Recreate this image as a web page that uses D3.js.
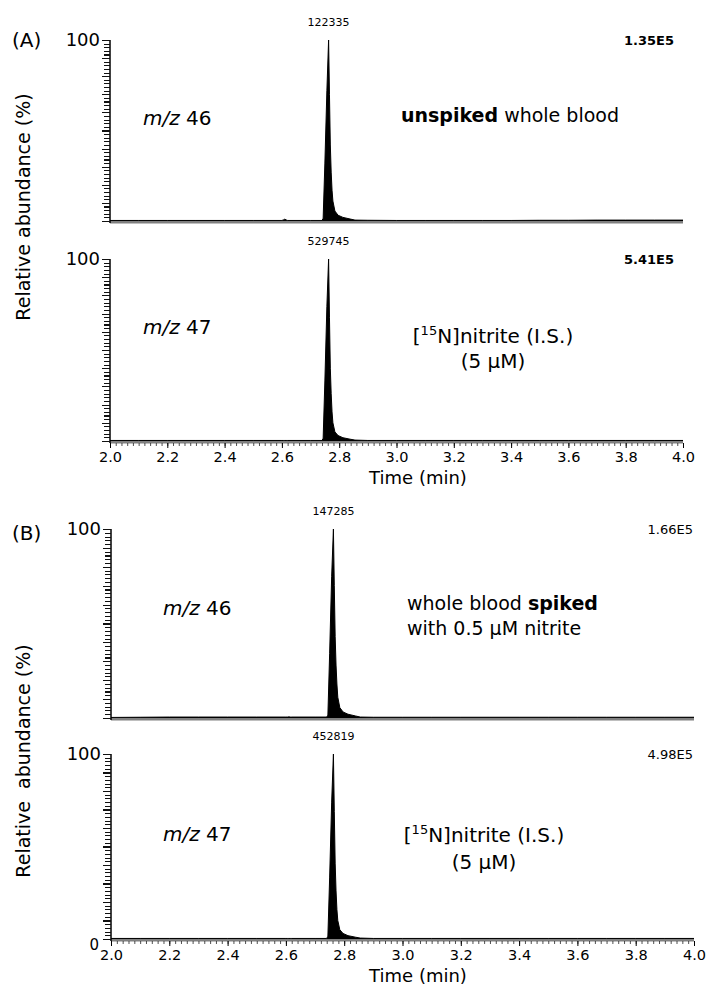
<!DOCTYPE html>
<html><head><meta charset="utf-8">
<script src="https://cdn.jsdelivr.net/npm/d3@7"></script>
<style>body{margin:0;background:#fff}svg{display:block;font-family:"DejaVu Sans",Verdana,sans-serif}</style>
</head><body><svg id="c" width="707" height="985"></svg>
<script>
// ---- data ----
const times = [2.00,2.10,2.20,2.30,2.40,2.50,2.60,2.605,2.61,2.615,2.62,2.70,2.740,2.744,2.750,2.757,2.763,2.766,2.769,2.772,2.775,2.778,2.785,2.796,2.813,2.838,2.855,2.90,3.00,3.10,3.20,3.30,3.40,3.50,3.60,3.70,3.80,3.90,4.00];
const a46 = [0.3,0.3,0.3,0.3,0.3,0.3,0.3,0.6,1.0,0.6,0.3,0.3,0.3,1.5,32,72,100,70,42,27,17,11,5.5,3.2,2.0,1.1,0.5,0.4,0.3,0.3,0.3,0.3,0.3,0.4,0.4,0.5,0.5,0.5,0.5];
const a47 = [0.3,0.3,0.3,0.3,0.3,0.3,0.3,0.3,0.3,0.3,0.3,0.3,0.3,1.5,33,74,100,68,40,26,16,10,5.0,3.0,1.8,1.0,0.5,0.3,0.3,0.3,0.3,0.3,0.3,0.3,0.3,0.3,0.3,0.3,0.3];
const b46 = [0.3,0.4,0.5,0.5,0.5,0.5,0.5,0.5,0.6,0.5,0.5,0.5,0.5,1.5,34,75,100,70,43,28,18,11,5.5,3.2,2.0,1.1,0.5,0.4,0.4,0.4,0.4,0.4,0.4,0.4,0.4,0.4,0.4,0.4,0.4];
const b47 = [0.3,0.3,0.3,0.3,0.3,0.3,0.3,0.3,0.3,0.3,0.3,0.3,0.3,1.5,33,74,100,69,41,26,16,10,5.0,3.0,1.8,1.0,0.5,0.3,0.3,0.3,0.3,0.3,0.3,0.3,0.3,0.3,0.3,0.3,0.3];
const xTicks = [2.0,2.2,2.4,2.6,2.8,3.0,3.2,3.4,3.6,3.8,4.0];
const peakLabels = ["122335","529745","147285","452819"];
const scaleLabels = ["1.35E5","5.41E5","1.66E5","4.98E5"];

const svg = d3.select("#c");
const FONT = '"DejaVu Sans",Verdana,sans-serif';

const panels = [
  {data:a46, x0:110, x1:683, top:40,  base:221, xaxis:false, peak:peakLabels[0], scale:scaleLabels[0], bold:true,  sx:674},
  {data:a47, x0:110, x1:683, top:259, base:441, xaxis:true,  peak:peakLabels[1], scale:scaleLabels[1], bold:true,  sx:674},
  {data:b46, x0:111, x1:694, top:529, base:718, xaxis:false, peak:peakLabels[2], scale:scaleLabels[2], bold:false, sx:693},
  {data:b47, x0:111, x1:694, top:754, base:939, xaxis:true,  peak:peakLabels[3], scale:scaleLabels[3], bold:false, sx:693, zero:true}
];

panels.forEach((p,i)=>{
  const x = d3.scaleLinear().domain([2,4]).range([p.x0,p.x1]);
  const y = d3.scaleLinear().domain([0,100]).range([p.base,p.top]);
  const g = svg.append("g");
  const pts = times.map((t,j)=>[t,p.data[j]]);
  // baseline (x axis line)
  g.append("line").attr("x1",p.x0).attr("x2",p.x1).attr("y1",y(0)+1).attr("y2",y(0)+1)
    .attr("stroke","#808080").attr("stroke-width",3);
  // filled trace
  g.append("path").datum(pts)
    .attr("d", d3.area().x(d=>x(d[0])).y0(y(0)).y1(d=>y(d[1])))
    .attr("fill","#000");
  g.append("path").datum(pts)
    .attr("d", d3.line().x(d=>x(d[0])).y(d=>y(d[1])))
    .attr("fill","none").attr("stroke","#000").attr("stroke-width",1);
  // y axis
  const yMinor = d3.range(0,101,2);
  const ya = g.append("g").attr("transform",`translate(${p.x0},0)`)
    .call(d3.axisLeft(y).tickValues(yMinor).tickSize(6).tickFormat(""));
  ya.select(".domain").attr("stroke","#000").attr("stroke-width",1.5).attr("d",`M0,${y(0)+2}V${y(100)}`);
  ya.selectAll(".tick line").attr("stroke","#111").attr("stroke-width",1.1).attr("shape-rendering","crispEdges")
    .attr("x2",d=> d%10===0 ? -8 : -6);
  g.append("text").attr("x",p.x0-10).attr("y",y(100)).attr("dy","0.36em")
    .attr("text-anchor","end").attr("font-size",18).text("100");
  if(p.zero){
    g.append("text").attr("x",p.x0-12).attr("y",y(0)+11)
      .attr("text-anchor","end").attr("font-size",15).text("0");
  }
  if(p.xaxis){
    const minor = d3.range(0,101).map(k=>2+k*0.02);
    const xa = g.append("g").attr("transform",`translate(0,${y(0)+2})`)
      .call(d3.axisBottom(x).tickValues(minor).tickSize(3).tickFormat(""));
    xa.select(".domain").remove();
    xa.selectAll(".tick line").attr("stroke","#222").attr("stroke-width",0.8);
    const xb = g.append("g").attr("transform",`translate(0,${y(0)+2})`)
      .call(d3.axisBottom(x).tickValues(xTicks).tickSize(5).tickPadding(4).tickFormat(d3.format(".1f")));
    xb.select(".domain").remove();
    xb.selectAll(".tick line").attr("stroke","#000").attr("stroke-width",1);
    xb.selectAll(".tick text").attr("font-size",14.5).attr("font-family",FONT).attr("fill","#000");
    g.append("text").attr("x",418).attr("y",y(0)+43).attr("text-anchor","middle")
      .attr("font-size",18).text("Time (min)");
  }
  // peak label
  const peakIdx = p.data.indexOf(d3.max(p.data));
  g.append("text").attr("x",x(times[peakIdx])).attr("y",y(100)-14).attr("text-anchor","middle")
    .attr("font-size",11).text(p.peak);
  // scale label
  g.append("text").attr("x", p.sx).attr("y",y(100)+5).attr("text-anchor","end")
    .attr("font-size",13).attr("font-weight",p.bold?"bold":"normal").text(p.scale);
});

// m/z labels
function mz(xp,yp,num){
  const t = svg.append("text").attr("x",xp).attr("y",yp).attr("font-size",20);
  t.append("tspan").attr("font-style","italic").text("m/z");
  t.append("tspan").text(" "+num);
}
mz(143,125,"46"); mz(143,334,"47"); mz(163,615,"46"); mz(163,841,"47");

// annotations
const t1 = svg.append("text").attr("x",401).attr("y",122).attr("font-size",19);
t1.append("tspan").attr("font-weight","bold").text("unspiked");
t1.append("tspan").text(" whole blood");

function is(cx,yp,yp2){
  const t = svg.append("text").attr("x",cx).attr("y",yp).attr("font-size",20).attr("text-anchor","middle");
  t.append("tspan").text("[");
  t.append("tspan").attr("font-size",13).attr("dy",-8).text("15");
  t.append("tspan").attr("dy",8).text("N]nitrite (I.S.)");
  svg.append("text").attr("x",cx).attr("y",yp2).attr("font-size",20).attr("text-anchor","middle").text("(5 µM)");
}
is(493,343,368); is(484,842,869);

const t2 = svg.append("text").attr("x",407).attr("y",610).attr("font-size",19);
t2.append("tspan").text("whole blood ");
t2.append("tspan").attr("font-weight","bold").text("spiked");
svg.append("text").attr("x",407).attr("y",635).attr("font-size",19).text("with 0.5 µM nitrite");

// panel letters
svg.append("text").attr("x",12).attr("y",47).attr("font-size",20).text("(A)");
svg.append("text").attr("x",12).attr("y",540).attr("font-size",20).text("(B)");

// y labels
svg.append("text").attr("transform","translate(30,207) rotate(-90)").attr("text-anchor","middle")
  .attr("font-size",19).text("Relative abundance (%)");
svg.append("text").attr("transform","translate(30,761) rotate(-90)").attr("text-anchor","middle")
  .attr("font-size",19).style("white-space","pre").text("Relative  abundance (%)");
</script></body></html>
